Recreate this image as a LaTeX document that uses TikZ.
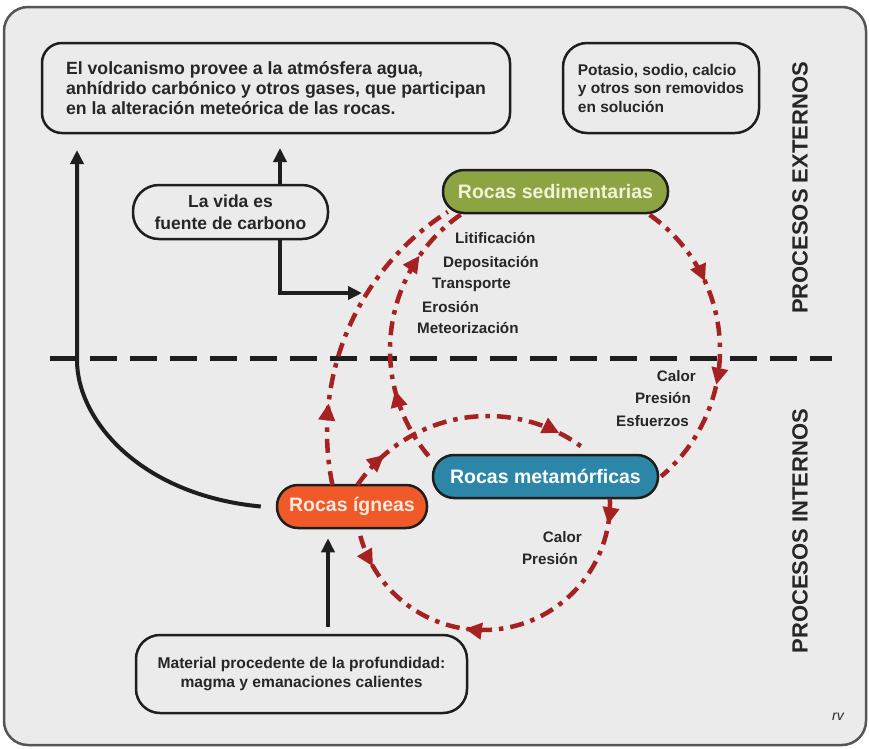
\documentclass[tikz,border=0pt]{standalone}
\usepackage{fontspec}
\setmainfont{Liberation Sans}
\usetikzlibrary{arrows.meta,decorations.markings,calc}
\definecolor{bgc}{RGB}{235,235,235}
\definecolor{framec}{RGB}{85,85,85}
\definecolor{inkc}{RGB}{30,30,30}
\definecolor{txtc}{RGB}{38,38,38}
\definecolor{cred}{RGB}{166,34,34}
\definecolor{sedc}{RGB}{141,164,66}
\definecolor{metc}{RGB}{44,134,168}
\definecolor{ignc}{RGB}{239,90,40}
\definecolor{sedtxt}{RGB}{242,242,218}
\definecolor{igntxt}{RGB}{252,234,222}
\begin{document}
\begin{tikzpicture}[x=1pt,y=1pt,
  infobox/.style={draw=inkc, line width=2.5pt, fill=bgc, rounded corners=20pt, align=left, inner sep=0pt, text=txtc},
  rock/.style={draw=inkc, line width=2.5pt, rounded corners=21pt, minimum width=225pt, minimum height=43pt, inner sep=0pt, font=\fontsize{19.5}{22}\selectfont\bfseries},
  blkarrow/.style={draw=inkc, line width=4pt, -{Triangle[length=14pt,width=13pt]}},
  redline/.style={draw=cred, line width=4.5pt, dash pattern=on 14pt off 7pt on 4.5pt off 7pt},
  rmark/.style={postaction={decorate,decoration={markings,mark=at position #1 with {\arrow[color=cred]{Triangle[length=17pt,width=16pt]}}}}},
  rmarkrev/.style={postaction={decorate,decoration={markings,mark=at position #1 with {\arrowreversed[color=cred]{Triangle[length=17pt,width=16pt]}}}}},
  lab/.style={text=txtc, font=\fontsize{15.2}{18}\selectfont\bfseries, inner sep=0pt},
  side/.style={rotate=90, text=txtc, inner sep=0pt, font=\fontsize{22}{24}\selectfont\bfseries},
]
\useasboundingbox (0,0) rectangle (869,-748);
\fill[white] (0,0) rectangle (869,-748);
\draw[framec, fill=bgc, line width=2.5pt, rounded corners=24pt] (4,-7) rectangle (866,-745);

% boxes
\node[infobox, minimum width=468pt, minimum height=90pt, font=\fontsize{17.7}{20}\selectfont\bfseries] (volc) at (276,-88)
  {El volcanismo provee a la atmósfera agua,\\anhídrido carbónico y otros gases, que participan\\en la alteración meteórica de las rocas.};
\node[infobox, rounded corners=24pt, minimum width=196pt, minimum height=90pt, font=\fontsize{15.5}{18.5}\selectfont\bfseries] (pot) at (661,-88)
  {Potasio, sodio, calcio\\y otros son removidos\\en solución};
\node[infobox, rounded corners=26pt, align=center, minimum width=195pt, minimum height=54pt, font=\fontsize{17.5}{21.5}\selectfont\bfseries] (vida) at (230.5,-212)
  {La vida es\\fuente de carbono};
\node[infobox, rounded corners=24pt, align=center, minimum width=331pt, minimum height=78pt, font=\fontsize{15.6}{19}\selectfont\bfseries] (mat) at (301.5,-674)
  {Material procedente de la profundidad:\\magma y emanaciones calientes};

% side titles
\node[side] (ext) at (800,-188) {PROCESOS EXTERNOS};
\node[side] (int) at (800,-531) {PROCESOS INTERNOS};

% divider
\coordinate (dl) at (50,-358);
\coordinate (dr) at (832,-358);
\draw[inkc, line width=5pt, dash pattern=on 27pt off 13pt] (dl) -- (dr);

% rock nodes
\node[rock, fill=sedc, text=sedtxt] (sed) at (555.5,-191.5) {Rocas sedimentarias};
\node[rock, fill=metc, text=white] (met) at (545.5,-476.5) {Rocas metamórficas};
\node[rock, fill=ignc, minimum width=150pt, text=igntxt] (ign) at (352,-506.5) {Rocas ígneas};

% labels
\node[lab, anchor=west] (l1) at (455,-238) {Litificación};
\node[lab, anchor=west] (l2) at (443,-263) {Depositación};
\node[lab, anchor=west] (l3) at (432,-285) {Transporte};
\node[lab, anchor=west] (l4) at (422,-307) {Erosión};
\node[lab, anchor=west] (l5) at (417,-328) {Meteorización};
\node[lab, anchor=east] (u1) at (696,-376) {Calor};
\node[lab, anchor=east] (u2) at (691,-398) {Presión};
\node[lab, anchor=east] (u3) at (689,-421) {Esfuerzos};
\node[lab, anchor=east] (d1) at (582,-537) {Calor};
\node[lab, anchor=east] (d2) at (578,-559) {Presión};
\node[text=txtc, inner sep=0pt, font=\fontsize{14}{16}\selectfont\itshape] (rv) at (838,-717) {rv};

% black arrows
\coordinate (tipA) at (280,-148);
\draw[blkarrow] (vida.north -| tipA) -- (tipA);
\coordinate (tipB) at (362,-293);
\draw[blkarrow] (vida.south -| tipA) |- (tipB);
\coordinate (tipC) at (77,-150);
\draw[blkarrow] ([xshift=-15pt]ign.west) .. controls (140,-495) and (77,-420) .. (77,-360) -- (tipC);
\draw[blkarrow] ([xshift=26.5pt,yshift=7pt]mat.north) -- ([xshift=-24pt,yshift=-9pt]ign.south);

% red cycle
\coordinate (c1) at (555,-350);
\coordinate (c2) at (588,-432);
\coordinate (c3) at (488,-574);
\coordinate (c4) at (483,-503);
% sedimentarias -> metamorficas
\draw[redline, rmark=0.29, rmark=0.64] ($(c1)+(55:165)$) arc[start angle=55, end angle=-50, radius=165];
% metamorficas -> sedimentarias
\draw[redline, rmark=0.27, rmark=0.78] ($(c1)+(220:165)$) arc[start angle=220, end angle=124, radius=165];
% igneas -> sedimentarias
\draw[redline, rmark=0.26] ($(c2)+(191.7:261)$) arc[start angle=191.7, end angle=122.5, radius=261];
% igneas -> metamorficas
\draw[redline, rmark=0.16, rmark=0.9] ($(c3)+(145.7:158)$) arc[start angle=145.7, end angle=54, radius=158];
% metamorficas -> igneas (lower)
\draw[redline, rmark=0.07, rmark=0.6, rmarkrev=0.91] ($(c4)+(2:127)$) arc[start angle=2, end angle=-165, radius=127];
\end{tikzpicture}
\end{document}
